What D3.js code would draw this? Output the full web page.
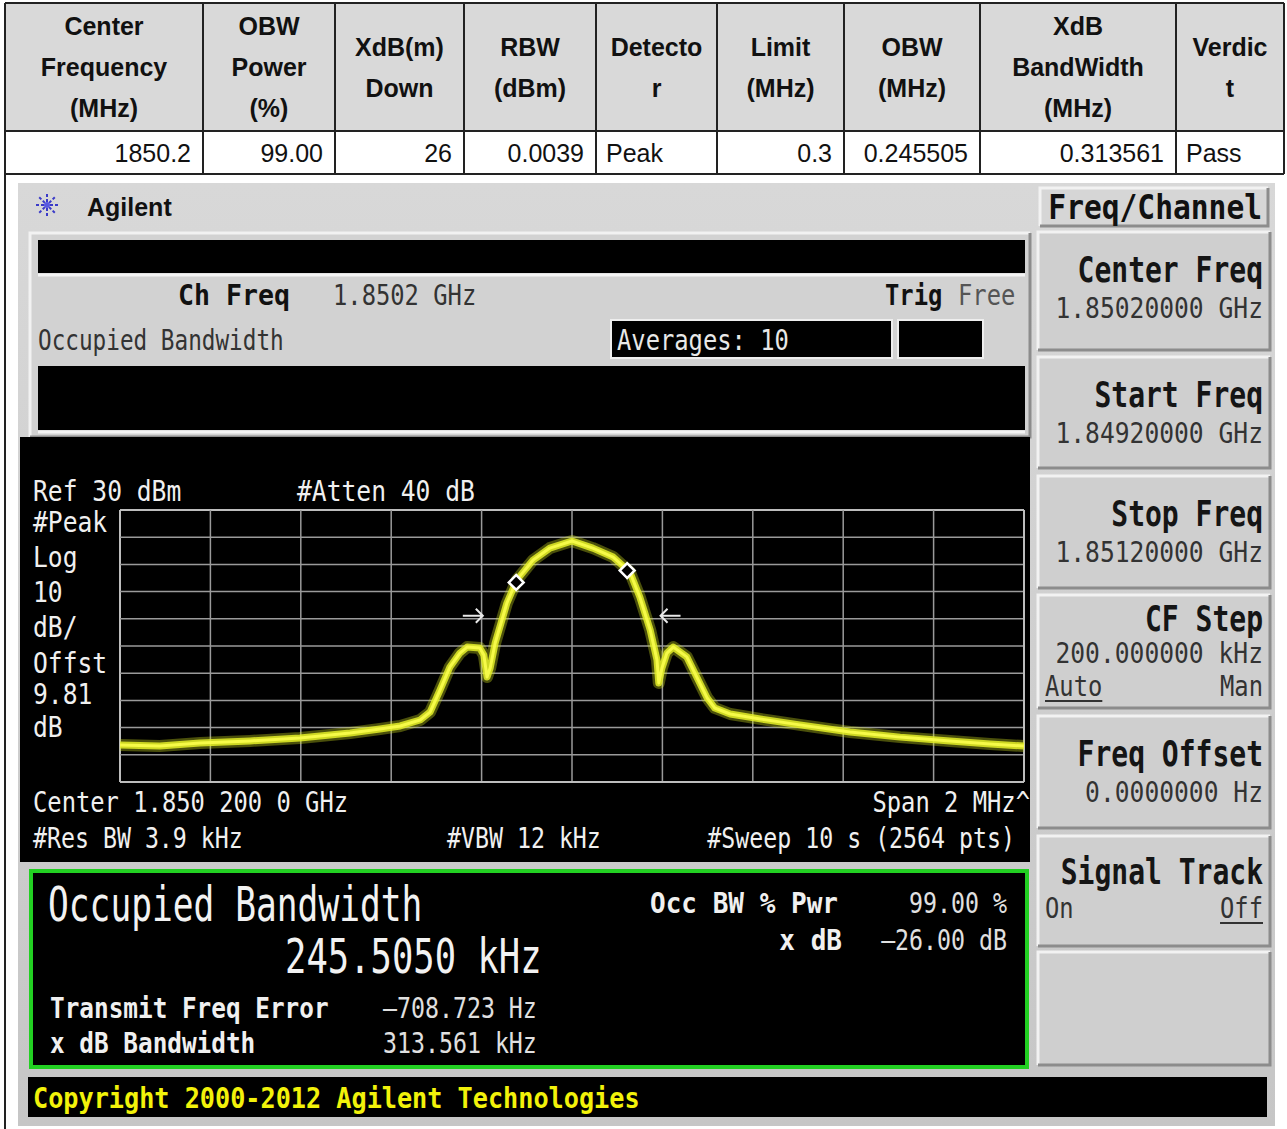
<!DOCTYPE html>
<html>
<head>
<meta charset="utf-8">
<script src="https://cdn.jsdelivr.net/npm/d3@7"></script>
<style>
  body { margin: 0; background: #fff; }
  svg { display: block; }
</style>
</head>
<body>
<svg id="chart" width="1287" height="1129"></svg>
<script>
// ---- table data ----
const tableHeaders = [
  ["Center", "Frequency", "(MHz)"],
  ["OBW", "Power", "(%)"],
  ["XdB(m)", "Down"],
  ["RBW", "(dBm)"],
  ["Detecto", "r"],
  ["Limit", "(MHz)"],
  ["OBW", "(MHz)"],
  ["XdB", "BandWidth", "(MHz)"],
  ["Verdic", "t"]
];
const tableRow = ["1850.2", "99.00", "26", "0.0039", "Peak", "0.3", "0.245505", "0.313561", "Pass"];

// ---- analyzer settings ----
const centerMHz = 1850.2;
const spanMHz = 2;
const refLevel = 30;      // dBm
const dbPerDiv = 10;
const obwKHz = 245.505;
const xdbBwKHz = 313.561;
const freqErrHz = -708.723;
const xdB = -26;

// ---- trace (offset from center in kHz, level in dBm) ----
const traceOffsetKHz = [-1000, -912, -823, -712, -602, -491, -425, -380, -336, -314, -292, -270, -248, -232,
  -204, -195, -188, -181, -170, -144, -122, -86, -49, 0, 46, 91, 128, 150, 173, 188, 192, 199, 210, 224,
  254, 276, 299, 316, 350, 416, 504, 615, 726, 836, 925, 1000];
const traceLevelDbm = [-56.4, -56.8, -55.7, -54.9, -53.8, -52.0, -50.5, -49.4, -47.2, -44.3, -36.2, -27.7, -22.6, -20.4,
  -20.7, -23.3, -31.4, -28.1, -18.9, -4.2, 4.3, 11.6, 16.0, 18.6, 16.0, 12.7, 7.2, -2.0, -14.1, -25.1, -33.6, -28.1, -22.6, -20.4,
  -24.0, -31.4, -39.1, -42.8, -45.0, -46.8, -49.0, -51.6, -53.5, -54.9, -56.0, -56.8];

// ---- screen text ----
const leftLabels = ["#Peak", "Log", "10", "dB/", "Offst", "9.81", "dB"];
const softkeys = [
  { label: "Center Freq", value: "1.85020000 GHz" },
  { label: "Start Freq", value: "1.84920000 GHz" },
  { label: "Stop Freq", value: "1.85120000 GHz" },
  { label: "CF Step", value: "200.000000 kHz", left: "Auto", right: "Man", under: "left" },
  { label: "Freq Offset", value: "0.0000000  Hz" },
  { label: "Signal Track", left: "On", right: "Off", under: "right" },
  {}
];

const svg = d3.select("#chart");
const SANS = "'Liberation Sans', Arial, sans-serif";
const MONO = "'DejaVu Sans Mono', monospace";

// mono text squeezed horizontally like the instrument font
function lcd(g, s, x, y, o = {}) {
  const size = o.size || 28, sx = o.sx || 0.85;
  return g.append("text")
    .attr("transform", `translate(${x},${y}) scale(${sx},1)`)
    .attr("text-anchor", o.anchor || "start")
    .attr("font-family", MONO)
    .attr("font-size", size)
    .attr("font-weight", o.bold ? 700 : 400)
    .attr("fill", o.fill || "#fff")
    .text(s);
}

function bevel(g, x, y, w, h, fill) {
  g.append("rect").attr("x", x).attr("y", y).attr("width", w).attr("height", h).attr("fill", fill || "#cdcdcd");
  g.append("path").attr("d", `M${x},${y + h}V${y}H${x + w}`).attr("fill", "none").attr("stroke", "#f2f2f2").attr("stroke-width", 3);
  g.append("path").attr("d", `M${x + w},${y}V${y + h}H${x}`).attr("fill", "none").attr("stroke", "#8c8c8c").attr("stroke-width", 3);
}

svg.append("rect").attr("width", 1287).attr("height", 1129).attr("fill", "#fff");

// ================= TABLE =================
const colX = [5, 203, 335, 464, 596, 717, 844, 980, 1176, 1284];
const headTop = 3, headBot = 131, rowBot = 174;
const tbl = svg.append("g");
tbl.append("rect").attr("x", colX[0]).attr("y", headTop)
  .attr("width", colX[9] - colX[0]).attr("height", headBot - headTop).attr("fill", "#d9d9d9");

tableHeaders.forEach((lines, i) => {
  const cx = (colX[i] + colX[i + 1]) / 2;
  const cy = (headTop + headBot) / 2;
  lines.forEach((l, j) => {
    tbl.append("text")
      .attr("x", cx).attr("y", cy + (j - (lines.length - 1) / 2) * 41 + 9)
      .attr("text-anchor", "middle")
      .attr("font-family", SANS).attr("font-weight", 700).attr("font-size", 25)
      .attr("fill", "#111")
      .text(l);
  });
});

tableRow.forEach((v, i) => {
  const num = !isNaN(+v);
  tbl.append("text")
    .attr("x", num ? colX[i + 1] - 12 : colX[i] + 10)
    .attr("y", (headBot + rowBot) / 2 + 9)
    .attr("text-anchor", num ? "end" : "start")
    .attr("font-family", SANS).attr("font-size", 25).attr("fill", "#111")
    .text(v);
});

[headTop, headBot, rowBot].forEach(y => {
  tbl.append("line").attr("x1", colX[0]).attr("x2", colX[9]).attr("y1", y).attr("y2", y)
    .attr("stroke", "#222").attr("stroke-width", 2);
});
colX.forEach(x => {
  tbl.append("line").attr("x1", x).attr("x2", x).attr("y1", headTop).attr("y2", rowBot)
    .attr("stroke", "#222").attr("stroke-width", 2);
});
tbl.append("line").attr("x1", colX[0]).attr("x2", colX[0]).attr("y1", rowBot).attr("y2", 1129)
  .attr("stroke", "#222").attr("stroke-width", 2);

// ================= INSTRUMENT SCREEN =================
const scr = svg.append("g");
const grad = svg.append("defs").append("linearGradient").attr("id", "bg").attr("x1", 0).attr("x2", 0).attr("y1", 0).attr("y2", 1);
grad.append("stop").attr("offset", "0%").attr("stop-color", "#d8d8d8");
grad.append("stop").attr("offset", "100%").attr("stop-color", "#c6c6c6");
scr.append("rect").attr("x", 18).attr("y", 183).attr("width", 1257).attr("height", 943).attr("fill", "url(#bg)");

// logo
const logo = scr.append("g").attr("transform", "translate(47,205)");
d3.range(8).forEach(k => {
  const a = k * Math.PI / 4;
  logo.append("line").attr("x1", 3 * Math.cos(a)).attr("y1", 3 * Math.sin(a))
    .attr("x2", 12 * Math.cos(a)).attr("y2", 12 * Math.sin(a))
    .attr("stroke", "#3a3ac8").attr("stroke-width", 2).attr("stroke-dasharray", "3,2");
});
logo.append("circle").attr("r", 3).attr("fill", "#5a5ae0");
scr.append("text").attr("x", 87).attr("y", 216).attr("font-family", SANS).attr("font-weight", 700)
  .attr("font-size", 25).attr("fill", "#111").text("Agilent");

// upper status panel
bevel(scr, 30, 233, 1000, 204, "#d2d2d2");
scr.append("rect").attr("x", 38).attr("y", 240).attr("width", 987).attr("height", 33).attr("fill", "#000");
scr.append("rect").attr("x", 38).attr("y", 366).attr("width", 987).attr("height", 64).attr("fill", "#000");
scr.append("line").attr("x1", 38).attr("x2", 1025).attr("y1", 275).attr("y2", 275).attr("stroke", "#f4f4f4").attr("stroke-width", 3);
scr.append("line").attr("x1", 38).attr("x2", 1025).attr("y1", 432).attr("y2", 432).attr("stroke", "#f4f4f4").attr("stroke-width", 3);
lcd(scr, "Ch Freq", 178, 305, { bold: true, fill: "#111", sx: 0.95 });
lcd(scr, "1.8502 GHz", 333, 305, { fill: "#333" });
lcd(scr, "Trig", 885, 305, { bold: true, fill: "#111", sx: 0.85 });
lcd(scr, "Free", 958, 305, { fill: "#555", sx: 0.85 });
lcd(scr, "Occupied Bandwidth", 38, 350, { fill: "#333", sx: 0.81 });
scr.append("rect").attr("x", 611).attr("y", 320).attr("width", 281).attr("height", 38)
  .attr("fill", "#000").attr("stroke", "#eee").attr("stroke-width", 2);
scr.append("rect").attr("x", 898).attr("y", 320).attr("width", 85).attr("height", 38)
  .attr("fill", "#000").attr("stroke", "#eee").attr("stroke-width", 2);
lcd(scr, "Averages: 10", 617, 350, { fill: "#e8e8e8", sx: 0.85 });

// trace area
scr.append("rect").attr("x", 20).attr("y", 437).attr("width", 1010).attr("height", 425).attr("fill", "#000");

const x = d3.scaleLinear()
  .domain([centerMHz - spanMHz / 2, centerMHz + spanMHz / 2])
  .range([120, 1024]);
const y = d3.scaleLinear()
  .domain([refLevel - 10 * dbPerDiv, refLevel])
  .range([782, 510]);

const grid = scr.append("g");
d3.range(11).forEach(k => {
  const edge = k === 0 || k === 10;
  const f = centerMHz - spanMHz / 2 + k * spanMHz / 10;
  grid.append("line").attr("x1", x(f)).attr("x2", x(f)).attr("y1", y(refLevel)).attr("y2", y(refLevel - 100))
    .attr("stroke", edge ? "#bdbdbd" : "#9a9a9a").attr("stroke-width", edge ? 2 : 1.5);
  const l = refLevel - k * dbPerDiv;
  grid.append("line").attr("x1", x.range()[0]).attr("x2", x.range()[1]).attr("y1", y(l)).attr("y2", y(l))
    .attr("stroke", edge ? "#bdbdbd" : "#9a9a9a").attr("stroke-width", edge ? 2 : 1.5);
});

lcd(scr, "Ref 30 dBm", 33, 501, { fill: "#f0f0f0", sx: 0.88 });
lcd(scr, "#Atten 40 dB", 297, 501, { fill: "#f0f0f0", sx: 0.88 });
const leftY = [522, 557, 592, 627, 663, 694, 727];
leftLabels.forEach((s, i) => lcd(scr, s, 33, leftY[i] + 10, { fill: "#f0f0f0", sx: 0.88 }));
lcd(scr, "Center 1.850 200 0 GHz", 33, 812, { fill: "#f0f0f0", sx: 0.85 });
lcd(scr, "Span 2 MHz^", 1030, 812, { fill: "#f0f0f0", sx: 0.85, anchor: "end" });
lcd(scr, "#Res BW 3.9 kHz", 33, 848, { fill: "#f0f0f0", sx: 0.83 });
lcd(scr, "#VBW 12 kHz", 447, 848, { fill: "#f0f0f0", sx: 0.83 });
lcd(scr, "#Sweep 10 s (2564 pts)", 1015, 848, { fill: "#f0f0f0", sx: 0.83, anchor: "end" });

// trace: wide soft band + bright core, like the noisy yellow trace
const pts = traceOffsetKHz.map((o, i) => [centerMHz + o / 1000, traceLevelDbm[i]]);
const line = d3.line().x(d => x(d[0])).y(d => y(d[1]));
scr.append("path").datum(pts).attr("d", line).attr("fill", "none")
  .attr("stroke", "#d8e420").attr("stroke-width", 12).attr("stroke-linejoin", "round").attr("opacity", 0.35);
scr.append("path").datum(pts).attr("d", line).attr("fill", "none")
  .attr("stroke", "#e4ee28").attr("stroke-width", 7).attr("stroke-linejoin", "round").attr("opacity", 0.85);
scr.append("path").datum(pts).attr("d", line).attr("fill", "none")
  .attr("stroke", "#f6fa48").attr("stroke-width", 3).attr("stroke-linejoin", "round");

function levelAt(off) {
  const i = d3.bisectLeft(traceOffsetKHz, off);
  const a = Math.max(0, i - 1), b = Math.min(traceOffsetKHz.length - 1, i);
  if (a === b) return traceLevelDbm[a];
  const t = (off - traceOffsetKHz[a]) / (traceOffsetKHz[b] - traceOffsetKHz[a]);
  return traceLevelDbm[a] + t * (traceLevelDbm[b] - traceLevelDbm[a]);
}

// OBW markers
const errKHz = freqErrHz / 1000;
[errKHz - obwKHz / 2, errKHz + obwKHz / 2].forEach(o => {
  scr.append("path")
    .attr("d", d3.symbol(d3.symbolSquare, 110)())
    .attr("transform", `translate(${x(centerMHz + o / 1000)},${y(levelAt(o)) + 1}) rotate(45)`)
    .attr("fill", "#000").attr("stroke", "#fff").attr("stroke-width", 2.5);
});

// x dB arrows
const arrowLevel = d3.max(traceLevelDbm) + xdB;
[[errKHz - xdbBwKHz / 2, 1], [errKHz + xdbBwKHz / 2, -1]].forEach(([o, dir]) => {
  const ex = x(centerMHz + o / 1000) - dir * 18;
  const ay = y(arrowLevel) + 4;
  scr.append("path")
    .attr("d", `M${ex - dir * 20},${ay}H${ex}M${ex - dir * 7},${ay - 7}L${ex},${ay}L${ex - dir * 7},${ay + 7}`)
    .attr("fill", "none").attr("stroke", "#e8e8e8").attr("stroke-width", 2);
});

// results box
scr.append("rect").attr("x", 31).attr("y", 871).attr("width", 996).attr("height", 196)
  .attr("fill", "#000").attr("stroke", "#22d022").attr("stroke-width", 4);
lcd(scr, "Occupied Bandwidth", 48, 921, { size: 48, sx: 0.72, fill: "#f2f2f2" });
lcd(scr, "245.5050 kHz", 285, 973, { size: 48, sx: 0.74, fill: "#f2f2f2" });
lcd(scr, "Transmit Freq Error", 50, 1018, { bold: true, sx: 0.87, fill: "#f0f0f0" });
lcd(scr, "\u2013708.723 Hz", 383, 1018, { sx: 0.83, fill: "#e0e0e0" });
lcd(scr, "x dB Bandwidth", 50, 1053, { bold: true, sx: 0.87, fill: "#f0f0f0" });
lcd(scr, "313.561 kHz", 383, 1053, { sx: 0.83, fill: "#e0e0e0" });
lcd(scr, "Occ BW % Pwr", 650, 913, { bold: true, sx: 0.93, fill: "#f0f0f0" });
lcd(scr, "99.00 %", 1007, 913, { sx: 0.83, fill: "#e0e0e0", anchor: "end" });
lcd(scr, "x dB", 842, 950, { bold: true, sx: 0.93, fill: "#f0f0f0", anchor: "end" });
lcd(scr, "\u201326.00 dB", 1007, 950, { sx: 0.83, fill: "#e0e0e0", anchor: "end" });

// copyright bar
scr.append("rect").attr("x", 28).attr("y", 1077).attr("width", 1239).attr("height", 40).attr("fill", "#000");
lcd(scr, "Copyright 2000-2012 Agilent Technologies", 33, 1108, { bold: true, sx: 0.9, fill: "#f2f20a" });

// softkeys
bevel(scr, 1040, 188, 228, 38, "#d6d6d6");
lcd(scr, "Freq/Channel", 1262, 219, { size: 34, bold: true, sx: 0.87, fill: "#111", anchor: "end" });
const keyTops = [232, 357, 476, 595, 716, 836, 952];
const keyH = [118, 111, 112, 113, 112, 110, 113];
softkeys.forEach((k, i) => {
  const t = keyTops[i];
  bevel(scr, 1038, t, 232, keyH[i], "#cfcfcf");
  if (!k.label) return;
  const three = k.value && k.left;           // label / value / Auto-Man rows
  const labelY = three ? t + 36 : (k.value ? t + 50 : t + 48);
  const valueY = three ? t + 68 : t + 86;
  const lrY = three ? t + 101 : t + 82;
  lcd(scr, k.label, 1263, labelY, { size: 35, bold: true, sx: 0.8, fill: "#151515", anchor: "end" });
  if (k.value) lcd(scr, k.value, 1263, valueY, { sx: 0.88, fill: "#333", anchor: "end" });
  if (k.left) {
    lcd(scr, k.left, 1045, lrY, { sx: 0.85, fill: "#333" });
    lcd(scr, k.right, 1263, lrY, { sx: 0.85, fill: "#333", anchor: "end" });
    const w = (k.under === "left" ? k.left : k.right).length * 28 * 0.602 * 0.85;
    const ux = k.under === "left" ? 1045 : 1263 - w;
    scr.append("line").attr("x1", ux).attr("x2", ux + w).attr("y1", lrY + 5).attr("y2", lrY + 5)
      .attr("stroke", "#333").attr("stroke-width", 2);
  }
});
</script>
</body>
</html>
